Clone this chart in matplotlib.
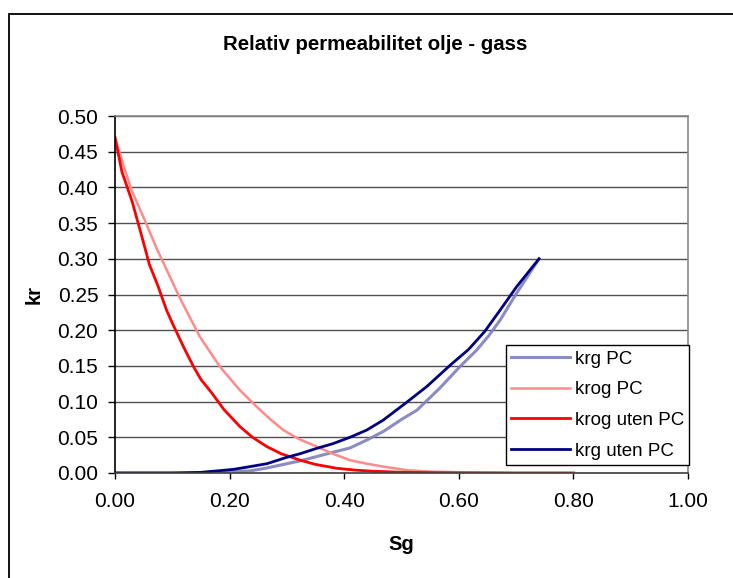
import matplotlib
matplotlib.use("Agg")
import matplotlib.pyplot as plt
from matplotlib.patches import Rectangle

plt.rcParams['font.family'] = ['Liberation Sans', 'DejaVu Sans']

# krg PC
sg_krg_pc = [0.00, 0.12, 0.18, 0.236, 0.265, 0.294, 0.323, 0.352, 0.38, 0.41, 0.439,
             0.468, 0.50, 0.527, 0.567, 0.602, 0.631, 0.652, 0.672, 0.701, 0.74]
kr_krg_pc = [0.0, 0.0, 0.001, 0.003, 0.007, 0.012, 0.017, 0.023, 0.029, 0.035, 0.046,
             0.058, 0.075, 0.088, 0.119, 0.149, 0.172, 0.192, 0.214, 0.252, 0.300]

# krog PC
sg_krog_pc = [0.00, 0.015, 0.029, 0.052, 0.073, 0.09, 0.108, 0.119, 0.148, 0.183, 0.218,
              0.247, 0.27, 0.294, 0.32, 0.352, 0.38, 0.41, 0.44, 0.468, 0.509, 0.55,
              0.60, 0.70, 0.80]
kr_krog_pc = [0.470, 0.430, 0.396, 0.354, 0.314, 0.285, 0.254, 0.236, 0.191, 0.149, 0.116,
              0.093, 0.076, 0.060, 0.048, 0.037, 0.027, 0.018, 0.013, 0.009, 0.004, 0.002,
              0.001, 0.0, 0.0]

# krog uten PC
sg_krog = [0.00, 0.012, 0.03, 0.05, 0.06, 0.075, 0.09, 0.10, 0.12, 0.137, 0.15, 0.169,
           0.19, 0.218, 0.24, 0.265, 0.29, 0.323, 0.35, 0.387, 0.42, 0.45, 0.50, 0.55,
           0.60, 0.70, 0.80]
kr_krog = [0.470, 0.422, 0.380, 0.322, 0.292, 0.262, 0.228, 0.210, 0.176, 0.149, 0.131,
           0.112, 0.089, 0.065, 0.050, 0.037, 0.027, 0.018, 0.012, 0.0066, 0.004, 0.0025,
           0.001, 0.0005, 0.0002, 0.0, 0.0]

# krg uten PC
sg_krg = [0.00, 0.10, 0.148, 0.206, 0.236, 0.265, 0.30, 0.323, 0.352, 0.38, 0.41, 0.439,
          0.468, 0.509, 0.544, 0.585, 0.617, 0.645, 0.672, 0.701, 0.74]
kr_krg = [0.0, 0.0, 0.0008, 0.005, 0.009, 0.013, 0.022, 0.027, 0.0345, 0.041, 0.050, 0.060,
          0.074, 0.099, 0.121, 0.151, 0.173, 0.198, 0.228, 0.261, 0.300]

x_ticks = [0.0, 0.2, 0.4, 0.6, 0.8, 1.0]
y_ticks = [0.00, 0.05, 0.10, 0.15, 0.20, 0.25, 0.30, 0.35, 0.40, 0.45, 0.50]

W, H = 733, 578
fig = plt.figure(figsize=(W / 100, H / 100), dpi=100)
fig.patch.set_facecolor('white')

# outer chart-area frame
fig.add_artist(Rectangle((9 / W, -0.1), 1.2, 1 - 14 / H + 0.1,
                         transform=fig.transFigure, fill=False,
                         edgecolor='black', linewidth=1.3))

ax = fig.add_axes([115 / W, 1 - 473 / H, (688 - 115) / W, (473 - 116) / H])

ax.plot(sg_krg_pc, kr_krg_pc, color='#7f7fc0', lw=2.2, label='krg PC', alpha=0.9)
ax.plot(sg_krog_pc, kr_krog_pc, color='#ff8a8a', lw=1.8, label='krog PC')
ax.plot(sg_krog, kr_krog, color='#ff0000', lw=2.0, label='krog uten PC')
ax.plot(sg_krg, kr_krg, color='#000080', lw=2.0, label='krg uten PC')

ax.set_xlim(0, 1.0)
ax.set_ylim(0, 0.5)
ax.set_xticks(x_ticks)
ax.set_yticks(y_ticks)
ax.set_xticklabels([f"{v:.2f}" for v in x_ticks])
ax.set_yticklabels([f"{v:.2f}" for v in y_ticks])
ax.tick_params(axis='both', labelsize=15, direction='out', width=1, color='black')
ax.tick_params(axis='x', length=4, pad=10)
ax.tick_params(axis='y', length=5, pad=7)
ax.yaxis.grid(True, color='#505050', lw=1)
ax.set_axisbelow(True)

for side in ('top', 'right'):
    ax.spines[side].set_color('#888888')
    ax.spines[side].set_linewidth(1.2)
ax.spines['left'].set_color('black')
ax.spines['bottom'].set_color('#404040')
ax.spines['left'].set_linewidth(1.2)
ax.spines['bottom'].set_linewidth(1.2)

ax.set_xlabel('Sg', fontsize=14.5, fontweight='bold', labelpad=17)
ax.set_ylabel('kr', fontsize=14.5, fontweight='bold', labelpad=10)

fig.text(375 / W, 1 - 45 / H, 'Relativ permeabilitet olje - gass', ha='center',
         va='center', fontsize=14.7, fontweight='bold')

leg = ax.legend(loc='upper left', bbox_to_anchor=(0.682, 0.3585), borderaxespad=0,
                fontsize=13.5, frameon=True, fancybox=False, handlelength=3.1,
                handletextpad=0.27, labelspacing=0.72, borderpad=0.3)
leg.get_frame().set_edgecolor('black')
leg.get_frame().set_linewidth(1.0)
leg.get_frame().set_alpha(1)

fig.savefig('out.png', dpi=100)
